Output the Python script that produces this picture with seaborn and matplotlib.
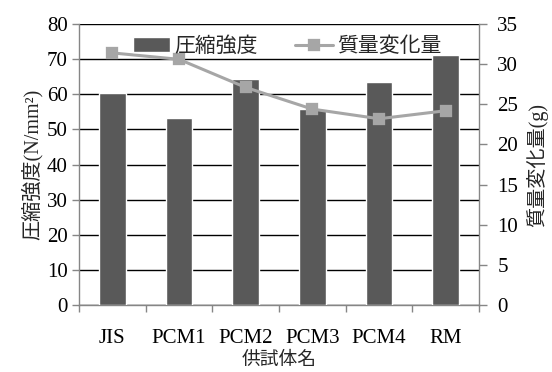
import matplotlib
matplotlib.use("Agg")
import matplotlib.pyplot as plt
import seaborn as sns
import numpy as np

# Specimen names and measurements
specimens = ["JIS", "PCM1", "PCM2", "PCM3", "PCM4", "RM"]
strength = [60.3, 53.2, 64.4, 55.8, 63.4, 71.2]      # N/mm2
mass_change = [31.4, 30.6, 27.1, 24.4, 23.2, 24.2]   # g

sns.set_theme(style="white")
plt.rcParams["font.family"] = ["Liberation Serif", "Noto Sans CJK JP", "DejaVu Sans"]

fig = plt.figure(figsize=(5.52, 3.72), dpi=100)
ax = fig.add_axes([0.143, 0.180, 0.725, 0.7555])
ax2 = ax.twinx()

bar_color = "#595959"
line_color = "#A6A6A6"
axis_gray = "#868686"
fs = 15

sns.barplot(x=specimens, y=strength, color=bar_color, width=0.4,
            saturation=1, ax=ax, zorder=3, label="圧縮強度")
sns.pointplot(x=specimens, y=mass_change, color=line_color, markers="s",
              markersize=7.5, linewidth=2.2, ax=ax2, label="質量変化量")

ax.set_ylim(0, 80)
ax.set_yticks(np.arange(0, 81, 10))
ax2.set_ylim(0, 35)
ax2.set_yticks(np.arange(0, 36, 5))
ax.set_xlim(-0.5, 5.5)

# horizontal gridlines behind the bars
ax.yaxis.grid(True, color="black", linewidth=1.0, zorder=0)
ax.set_axisbelow(True)

ax.spines["top"].set_visible(False)
ax2.spines["top"].set_visible(False)
ax2.spines["left"].set_visible(False)
ax2.spines["bottom"].set_visible(False)
ax.spines["right"].set_visible(False)
for sp in [ax.spines["left"], ax.spines["bottom"], ax2.spines["right"]]:
    sp.set_color(axis_gray)
    sp.set_linewidth(1.0)

# category ticks between the bars
ax.set_xticks(np.arange(-0.5, 6, 1.0), minor=True)
ax.tick_params(axis="x", which="minor", length=5, color=axis_gray, width=1,
               direction="out", bottom=True)
ax.tick_params(axis="x", which="major", length=0, pad=17, labelsize=fs, labelcolor="black")
ax.tick_params(axis="y", which="major", length=5, color=axis_gray, width=1, direction="out",
               left=True, pad=3, labelsize=fs, labelcolor="black")
ax2.tick_params(axis="y", which="major", length=6, color=axis_gray, width=1, direction="out",
                right=True, pad=7, labelsize=fs, labelcolor="black")

ax.set_xlabel("供試体名", fontsize=13.5, labelpad=3)
ax.set_ylabel("圧縮強度(N/mm²)", fontsize=14.5, labelpad=3)
ax2.set_ylabel("質量変化量(g)", fontsize=14.5, rotation=90, labelpad=6)

# combined legend across the top of the plot
h1, l1 = ax.get_legend_handles_labels()
h2, l2 = ax2.get_legend_handles_labels()
if ax.get_legend() is not None:
    ax.get_legend().remove()
ax2.legend(h1 + h2, l1 + l2, loc="upper center", bbox_to_anchor=(0.52, 1.02),
           ncol=2, frameon=False, fontsize=fs, handlelength=1.8, handletextpad=0.2,
           columnspacing=1.8)

fig.savefig("out.png", dpi=100)
